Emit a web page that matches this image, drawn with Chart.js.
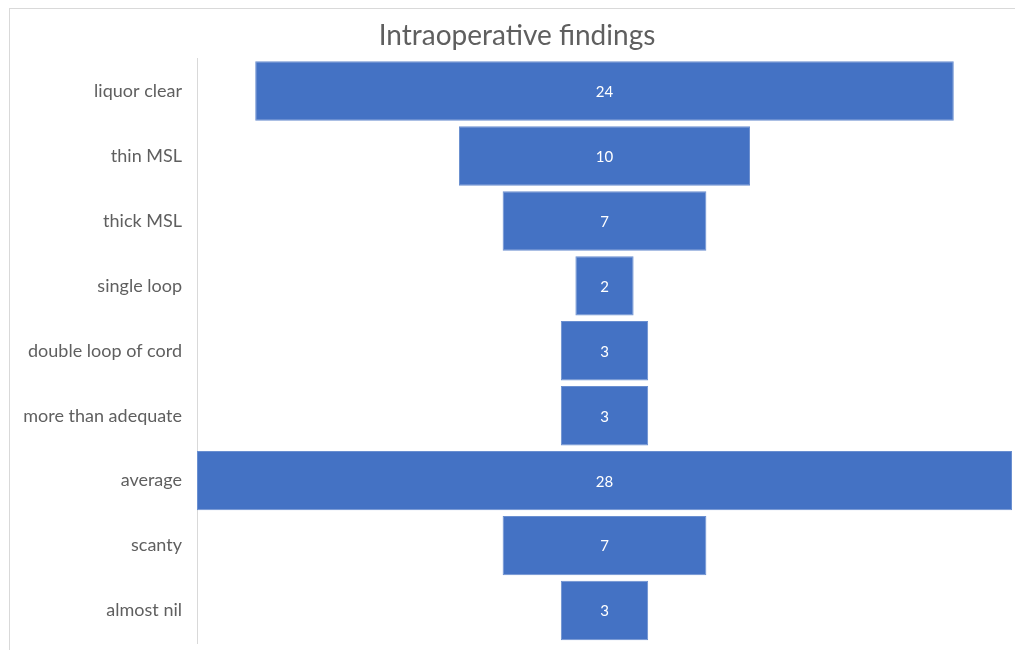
<!DOCTYPE html>
<html>
<head>
<meta charset="utf-8">
<script src="https://cdn.jsdelivr.net/npm/chart.js@4/dist/chart.umd.min.js"></script>
<style>
html,body{margin:0;padding:0;background:#fff;}
#wrap{width:1015px;height:650px;position:relative;}
</style>
</head>
<body>
<div id="wrap"><canvas id="c" width="1015" height="650"></canvas></div>
<script>
const categories = ["liquor clear","thin MSL","thick MSL","single loop","double loop of cord","more than adequate","average","scanty","almost nil"];
const values = [24, 10, 7, 2, 3, 3, 28, 7, 3];
const chartTitle = "Intraoperative findings";

const maxVal = Math.max(...values);
const center = maxVal / 2;
const floating = values.map(v => [center - v / 2, center + v / 2]);

const frame = {
  id: 'frame',
  beforeDraw(chart) {
    const ctx = chart.ctx;
    ctx.save();
    ctx.fillStyle = '#fff';
    ctx.fillRect(0, 0, chart.width, chart.height);
    ctx.strokeStyle = '#d9d9d9';
    ctx.lineWidth = 1;
    ctx.strokeRect(9.5, 8.5, 1200, 800);
    ctx.restore();
  }
};

const labelsPlugin = {
  id: 'barLabels',
  afterDatasetsDraw(chart) {
    const ctx = chart.ctx;
    const meta = chart.getDatasetMeta(0);
    ctx.save();
    ctx.fillStyle = '#ffffff';
    ctx.font = '15px Lato, "Open Sans", sans-serif';
    ctx.textAlign = 'center';
    ctx.textBaseline = 'middle';
    meta.data.forEach((el, i) => {
      const p = el.getProps(['x', 'base', 'y'], true);
      ctx.fillText(String(values[i]), (p.x + p.base) / 2, p.y + 1);
    });
    ctx.restore();
  }
};

new Chart(document.getElementById('c'), {
  type: 'bar',
  data: {
    labels: categories,
    datasets: [{
      data: floating,
      backgroundColor: '#4472C4',
      borderColor: '#6a8fd0',
      borderWidth: 1,
      borderSkipped: false,
      barPercentage: 0.915,
      categoryPercentage: 1.0
    }]
  },
  options: {
    indexAxis: 'y',
    responsive: false,
    animation: false,
    layout: { padding: { left: 22, right: 3, top: 0, bottom: 7 } },
    plugins: {
      legend: { display: false },
      tooltip: { enabled: false },
      title: {
        display: true,
        text: chartTitle,
        color: '#5f5f5f',
        font: { family: 'Lato, "Open Sans", sans-serif', size: 28, weight: 'normal' },
        padding: { top: 19, bottom: 6 }
      }
    },
    scales: {
      x: {
        display: false,
        min: 0,
        max: maxVal
      },
      y: {
        grid: { display: false, drawTicks: false },
        border: { display: true, color: '#d9d9d9', width: 1 },
        ticks: {
          color: '#5f5f5f',
          font: { family: 'Lato, "Open Sans", sans-serif', size: 18 },
          padding: 15
        },
        afterFit(scale) {
          scale.width = 175;
          scale.paddingTop = 0;
          scale.paddingBottom = 0;
        }
      }
    }
  },
  plugins: [frame, labelsPlugin]
});
</script>
</body>
</html>
